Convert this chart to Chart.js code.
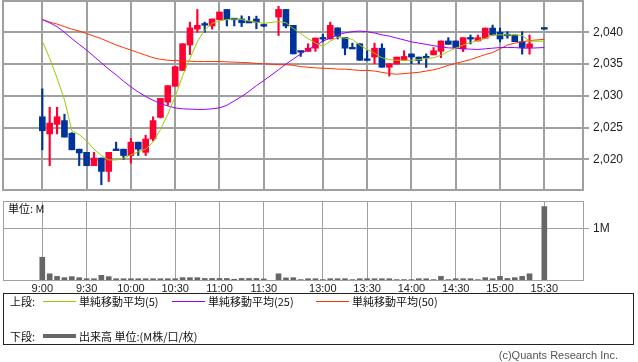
<!DOCTYPE html>
<html><head><meta charset="utf-8">
<script src="https://cdn.jsdelivr.net/npm/chart.js@4/dist/chart.umd.min.js"></script>
<style>
html,body{margin:0;padding:0;background:#fff;width:638px;height:362px;overflow:hidden;position:relative;font-family:"Noto Sans CJK JP","Liberation Sans",sans-serif;color:#000;}
canvas{position:absolute;left:0;}
#c1{top:0;}
#c2{top:195px;}
.lg{position:absolute;left:3px;top:293px;width:631px;height:52px;border:1px solid #222;box-sizing:border-box;}
.t{position:absolute;font-size:11px;line-height:13px;white-space:nowrap;color:#111;}
.ln{position:absolute;height:1px;width:33px;}
#unit{position:absolute;left:8px;top:202px;font-size:11px;line-height:13px;color:#111;}
#copy{position:absolute;right:20px;top:349px;font-size:11px;line-height:13px;color:#555;font-family:"Liberation Sans",sans-serif;}
</style></head>
<body>
<canvas id="c1" width="638" height="195"></canvas>
<canvas id="c2" width="638" height="100"></canvas>
<div id="unit">単位: M</div>
<div class="lg"></div>
<div class="t" style="left:10px;top:295px">上段:</div>
<div class="ln" style="left:43px;top:301px;background:#99cc00"></div>
<div class="t" style="left:79px;top:295px">単純移動平均(5)</div>
<div class="ln" style="left:172px;top:301px;background:#9900ff"></div>
<div class="t" style="left:208px;top:295px">単純移動平均(25)</div>
<div class="ln" style="left:316px;top:301px;background:#ff3300"></div>
<div class="t" style="left:352px;top:295px">単純移動平均(50)</div>
<div class="t" style="left:10px;top:330px">下段:</div>
<div class="ln" style="left:43px;top:334px;height:4px;background:#666"></div>
<div class="t" style="left:79px;top:330px">出来高 単位:(M株/口/枚)</div>
<div id="copy">(c)Quants Research Inc.</div>
<script>
// slot times (5-minute candles)
const TIMES = ['9:00','9:05','9:10','9:15','9:20','9:25','9:30','9:35','9:40','9:45','9:50','9:55',
 '10:00','10:05','10:10','10:15','10:20','10:25','10:30','10:35','10:40','10:45','10:50','10:55',
 '11:00','11:05','11:10','11:15','11:20','11:25','11:30','',
 '12:30','12:35','12:40','12:45','12:50','12:55','13:00','13:05','13:10','13:15','13:20','13:25',
 '13:30','13:35','13:40','13:45','13:50','13:55','14:00','14:05','14:10','14:15','14:20','14:25',
 '14:30','14:35','14:40','14:45','14:50','14:55','15:00','15:05','15:10','15:15','15:20','15:25','15:30'];
const TICK_LABELS = ['9:00','9:30','10:00','10:30','11:00','11:30','13:00','13:30','14:00','14:30','15:00','15:30'];
const PRICE_TICKS = [2020,2025,2030,2035,2040];

const OPEN = [2026.7,2024.0,2025.5,2026.1,2024.1,2021.6,2021.1,2019.0,2020.2,2018.1,
 2021.5,2021.6,2020.6,2022.7,2021.1,2023.2,2026.6,2029.0,2031.5,2034.0,
 2038.0,2040.5,2041.25,2041.0,2042.0,2043.6,2042.1,2042.1,2041.6,2042.1,
 2041.1,null,2042.4,2043.6,2041.1,2037.0,2037.0,2037.5,2039.06,2038.95,
 2040.7,2039.2,2037.5,2038.2,2035.7,2036.1,2037.5,2034.5,2035.0,2035.6,
 2036.6,2036.1,2036.1,2036.45,2037.0,2038.64,2038.64,2037.4,2039.06,2038.64,
 2039.06,2040.67,2040.0,2039.58,2039.58,2038.53,2037.6,null,2040.62];
const HIGH = [2031.1,2028.2,2028.2,2027.1,2024.2,2021.6,2021.1,2021.1,2020.2,2021.1,
 2022.7,2021.6,2023.3,2022.7,2023.8,2026.7,2029.6,2031.6,2034.6,2038.2,
 2041.6,2043.6,2041.6,2042.1,2043.2,2043.6,2042.1,2042.6,2042.5,2042.55,
 2041.3,null,2044.1,2043.6,2041.1,2037.0,2038.2,2039.1,2039.7,2041.6,
 2040.7,2039.2,2038.3,2038.2,2037.1,2038.3,2038.2,2035.05,2036.1,2037.1,
 2036.6,2036.1,2036.6,2037.6,2038.64,2039.16,2038.64,2039.16,2039.58,2039.58,
 2040.67,2041.14,2040.67,2040.1,2039.58,2040.1,2039.58,null,2040.75];
const LOW = [2021.5,2019.0,2024.0,2023.5,2021.5,2019.0,2019.0,2019.0,2016.0,2016.5,
 2021.5,2020.0,2019.4,2020.6,2020.6,2022.9,2026.5,2028.5,2031.5,2034.0,
 2036.5,2040.0,2040.0,2040.5,2042.0,2041.0,2041.0,2040.9,2041.6,2040.56,
 2040.9,null,2039.5,2040.7,2036.6,2036.2,2037.0,2037.0,2038.5,2038.95,
 2038.95,2036.45,2037.5,2035.6,2035.6,2035.05,2034.5,2033.1,2035.0,2035.6,
 2035.05,2035.05,2034.47,2036.45,2036.0,2038.1,2037.6,2036.97,2038.17,2038.64,
 2039.06,2039.58,2038.5,2039.06,2038.53,2036.56,2036.56,null,2040.5];
const CLOSE = [2024.5,2025.7,2026.7,2023.5,2021.5,2021.0,2019.0,2020.2,2018.1,2021.1,
 2021.5,2020.6,2022.7,2021.6,2023.2,2026.1,2029.6,2031.6,2034.6,2038.2,
 2040.7,2041.1,2041.25,2042.1,2043.2,2042.0,2042.1,2041.5,2041.6,2041.6,
 2041.1,null,2043.6,2041.0,2036.6,2037.0,2037.5,2039.1,2039.06,2041.1,
 2039.4,2037.5,2037.5,2035.6,2035.7,2037.5,2034.5,2035.05,2036.1,2036.2,
 2036.1,2035.56,2036.1,2037.1,2038.64,2038.1,2037.6,2039.16,2039.06,2039.16,
 2040.67,2039.58,2038.95,2039.58,2038.53,2037.6,2038.17,null,2040.62];

const MA5 = [2038.6,2035.9,2032.8,2029.4,2024.5,2023.9,2022.9,2021.6,2020.6,2019.9,
 2019.9,2020.2,2020.7,2021.2,2021.6,2022.7,2024.7,2027.1,2029.9,2033.1,
 2035.9,2038.5,2040.4,2041.4,2041.8,2042.0,2042.1,2042.0,2041.8,2041.6,
 2041.4,null,2041.7,2041.5,2040.6,2039.8,2039.0,2038.3,2037.8,2038.6,
 2039.2,2039.1,2038.9,2038.0,2037.3,2036.7,2036.0,2035.7,2035.6,2035.6,
 2035.6,2035.7,2035.9,2036.0,2036.4,2037.0,2037.5,2038.0,2038.4,2038.7,
 2039.0,2039.6,2039.6,2039.6,2039.6,2039.5,2038.6,null,2038.6];
const MA25 = [2042.0,2041.5,2040.9,2040.0,2039.0,2038.1,2037.2,2036.2,2035.2,2034.2,
 2033.3,2032.3,2031.4,2030.6,2029.9,2029.3,2028.8,2028.4,2028.1,2027.95,
 2027.9,2027.86,2027.86,2027.95,2028.1,2028.5,2029.2,2029.9,2030.7,2031.6,
 2032.4,null,2034.1,2035.0,2035.8,2036.6,2037.3,2037.9,2038.6,2039.1,
 2039.6,2039.9,2040.1,2040.2,2040.1,2039.9,2039.6,2039.4,2039.1,2038.8,
 2038.5,2038.3,2038.1,2037.9,2037.7,2037.55,2037.5,2037.4,2037.35,2037.3,
 2037.4,2037.5,2037.6,2037.6,2037.6,2037.5,2037.5,null,2037.6];
const MA50 = [2042.0,2041.6,2041.3,2040.9,2040.5,2040.2,2039.8,2039.4,2039.0,2038.5,
 2038.0,2037.6,2037.2,2036.8,2036.4,2036.0,2035.75,2035.6,2035.55,2035.5,
 2035.45,2035.4,2035.4,2035.4,2035.4,2035.35,2035.3,2035.25,2035.2,2035.1,
 2035.05,null,2034.9,2034.9,2034.8,2034.6,2034.5,2034.4,2034.35,2034.3,
 2034.2,2034.2,2034.1,2034.0,2034.0,2033.9,2033.7,2033.5,2033.4,2033.5,
 2033.6,2033.7,2033.9,2034.1,2034.4,2034.8,2035.1,2035.4,2035.7,2036.1,
 2036.5,2036.8,2037.4,2038.0,2038.3,2038.5,2038.7,null,2038.9];
const VOLUME = [0.44,0.12,0.07,0.045,0.065,0.045,0.025,0.025,0.09,0.065,
 0.025,0.025,0.025,0.025,0.025,0.025,0.025,0.025,0.025,0.045,
 0.045,0.045,0.03,0.03,0.03,0.03,0.015,0.03,0.03,0.03,
 0.02,null,0.12,0.04,0.045,0.008,0.025,0.025,0.008,0.025,
 0.025,0.025,0.008,0.025,0.025,0.025,0.025,0.025,0.008,0.008,
 0.008,0.025,0.025,0.008,0.07,0.008,0.025,0.025,0.025,0.008,
 0.045,0.025,0.07,0.03,0.045,0.07,0.12,null,1.42];

// layout constants
const XMIN = -5.3235, XMAX = 73.24;
const YMIN = 2015.17, YMAX = 2044.93;
const VMAX = 1.528;
const RED = '#ff0033', BLUE = '#003399';
const GRID = '#a0a0a0';
const tickIdx = TICK_LABELS.map(l => TIMES.indexOf(l));

const idx = TIMES.map((_, i) => i);
const isUp = i => CLOSE[i] > OPEN[i];
const candleColor = idx.map(i => isUp(i) ? RED : BLUE);
const wickData = idx.map(i => OPEN[i] == null ? {x:i, y:null} : {x:i, y:[LOW[i], HIGH[i]]});
const bodyData = idx.map(i => {
  if (OPEN[i] == null) return {x:i, y:null};
  let lo = Math.min(OPEN[i], CLOSE[i]), hi = Math.max(OPEN[i], CLOSE[i]);
  if (hi - lo < 0.25) { const m = (hi + lo) / 2; lo = m - 0.13; hi = m + 0.13; }
  return {x:i, y:[lo, hi]};
});
const lineData = arr => idx.map(i => ({x:i, y:arr[i]}));

const frame = (lw) => ({
  id:'frame',
  afterDraw(chart){
    const a = chart.chartArea, c = chart.ctx;
    c.save(); c.strokeStyle = GRID; c.lineWidth = lw;
    c.strokeRect(Math.round(a.left) + (lw%2?0.5:0), Math.round(a.top) + (lw%2?0.5:0),
                 Math.round(a.right - a.left), Math.round(a.bottom - a.top));
    c.restore();
  }
});
const noPad = s => { s.paddingTop = 0; s.paddingBottom = 0; s.paddingLeft = 0; s.paddingRight = 0; };

Chart.defaults.font.family = '"Liberation Sans", sans-serif';
Chart.defaults.animation = false;

new Chart(document.getElementById('c1'), {
  type: 'bar',
  data: { datasets: [
    {type:'line', data: lineData(MA5), borderColor:'#99cc00', borderWidth:1, pointRadius:0, spanGaps:true, order:0},
    {type:'line', data: lineData(MA25), borderColor:'#9900ff', borderWidth:1, pointRadius:0, spanGaps:true, order:0},
    {type:'line', data: lineData(MA50), borderColor:'#ff3300', borderWidth:1, pointRadius:0, spanGaps:true, order:0},
    {type:'bar', data: bodyData, backgroundColor: candleColor, barThickness:6, grouped:false, order:1},
    {type:'bar', data: wickData, backgroundColor: candleColor, barThickness:1.5, grouped:false, order:2}
  ]},
  options: {
    responsive:false, devicePixelRatio:1,
    layout:{padding:{left:3, right:0, top:1, bottom:5}},
    plugins:{legend:{display:false}, tooltip:{enabled:false}},
    scales:{
      x:{type:'linear', min:XMIN, max:XMAX, offset:false,
         afterBuildTicks(s){ s.ticks = tickIdx.map(v => ({value:v})); },
         afterFit(s){ s.height = 0; noPad(s); },
         grid:{color:GRID, lineWidth:2, drawTicks:false, offset:false},
         border:{display:false}, ticks:{display:false}},
      y:{position:'right', min:YMIN, max:YMAX,
         afterBuildTicks(s){ s.ticks = PRICE_TICKS.map(v => ({value:v})); },
         afterFit(s){ s.width = 55; noPad(s); },
         grid:{color:GRID, lineWidth:2, tickLength:6},
         border:{display:false},
         ticks:{padding:4, color:'#222', font:{size:12}, callback: v => v.toLocaleString('en-US')}}
    }
  },
  plugins:[frame(2)]
});

new Chart(document.getElementById('c2'), {
  type: 'bar',
  data: { datasets: [
    {data: idx.map(i => ({x:i, y:VOLUME[i]})), backgroundColor:'#666666', barThickness:5, grouped:false}
  ]},
  options: {
    responsive:false, devicePixelRatio:1,
    layout:{padding:{left:3, right:0, top:6, bottom:0}},
    plugins:{legend:{display:false}, tooltip:{enabled:false}},
    scales:{
      x:{type:'linear', min:XMIN, max:XMAX, offset:false,
         afterBuildTicks(s){ s.ticks = tickIdx.map(v => ({value:v})); },
         afterFit(s){ s.height = 15; noPad(s); },
         grid:{color:GRID, lineWidth:1, drawTicks:false, offset:false},
         border:{display:false},
         ticks:{autoSkip:false, maxRotation:0, padding:2, color:'#222', font:{size:11},
                callback: v => TIMES[v]}},
      y:{position:'right', min:0, max:VMAX,
         afterBuildTicks(s){ s.ticks = [{value:1}]; },
         afterFit(s){ s.width = 55; noPad(s); },
         grid:{color:GRID, lineWidth:1, tickLength:6},
         border:{display:false},
         ticks:{padding:4, color:'#222', font:{size:12}, callback: v => v + 'M'}}
    }
  },
  plugins:[frame(1)]
});
</script>
</body></html>
